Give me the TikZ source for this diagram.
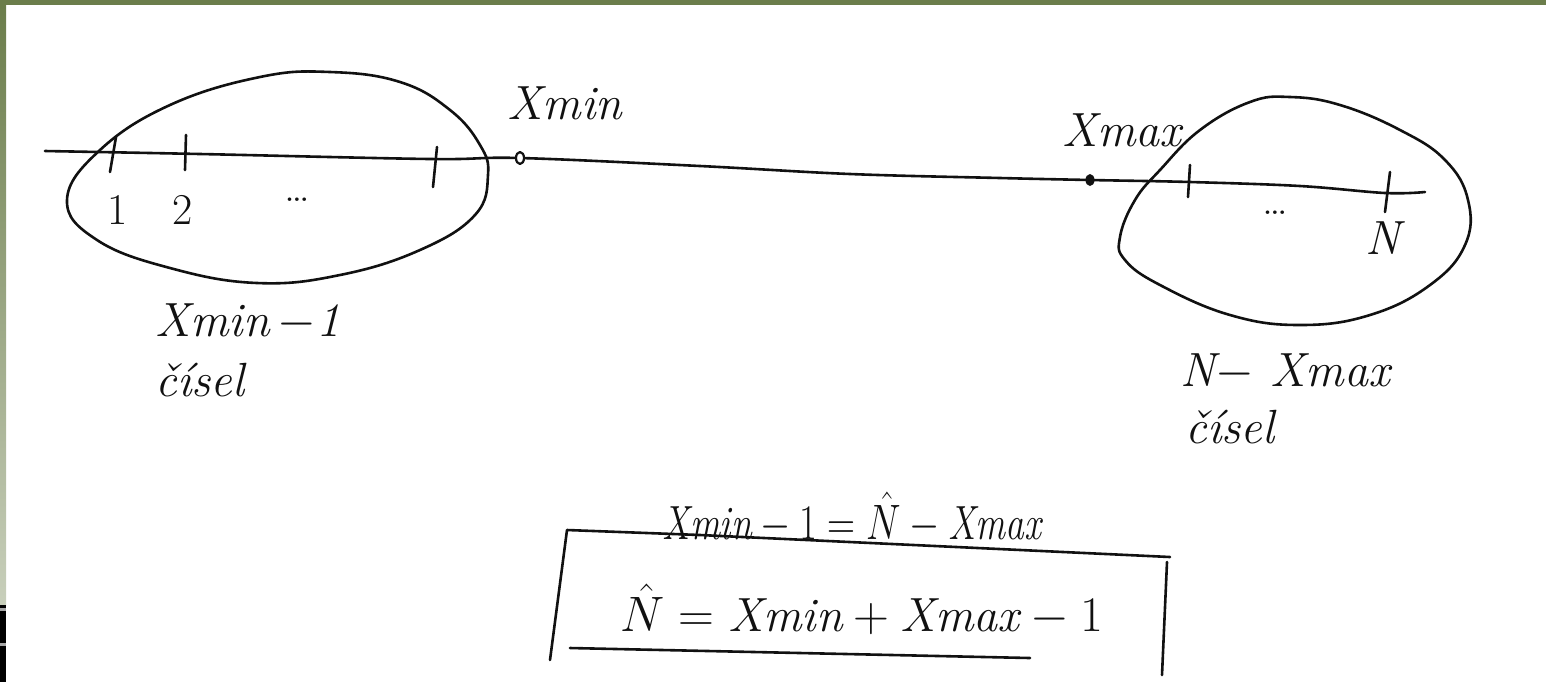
\documentclass[tikz,border=0pt]{standalone}
\usepackage{fontspec}
\usepackage{amsmath}
\usetikzlibrary{positioning, calc}
\definecolor{cFrame}   {HTML}{6B7D4B}
\definecolor{cFrameLo} {HTML}{C8CFBB}
\definecolor{cInk}     {HTML}{111111}
\tikzset{
  ink/.style={draw=cInk, line width=1.3pt, line cap=round, line join=round},
  hand/.style={font=\fontsize{24}{28}\selectfont\itshape, text=cInk, inner sep=0pt},
  handsm/.style={font=\fontsize{22}{26}\selectfont, text=cInk, inner sep=0pt},
}
\begin{document}
\begin{tikzpicture}[x=0.5pt, y=-0.5pt]
  \useasboundingbox (0,0) rectangle (1546,682);
  % frame
  \fill[cFrame] (0,0) rectangle (1546,5);
  \shade[top color=cFrame, bottom color=cFrameLo] (0,5) rectangle (6,605);
  \fill[black] (0,605) rectangle (6,682);
  \foreach \y in {608, 643}
    \fill[gray!70] (0,\y) rectangle (6,\y+3);

  % number line
  \draw[ink] plot[smooth, tension=0.6] coordinates {
    (45,151) (200,154) (430,159) (520,158) (700,166) (850,174)
    (1000,178) (1090,180) (1190,182) (1300,186) (1385,193) (1425,192)};

  % left set
  \draw[ink] plot[smooth cycle, tension=0.7] coordinates {
    (67,200) (100,150) (170,105) (260,77) (330,72) (400,82) (450,110)
    (480,145) (488,175) (475,215) (420,250) (340,275) (257,283)
    (170,268) (97,240)};
  % right set
  \draw[ink] plot[smooth cycle, tension=0.7] coordinates {
    (1120,237) (1135,200) (1160,170) (1200,130) (1250,102) (1290,97)
    (1340,105) (1400,130) (1445,160) (1468,200) (1465,245) (1430,285)
    (1370,315) (1300,325) (1230,315) (1160,285) (1125,260)};

  % ticks
  \foreach \xa/\ya/\xb/\yb in {116/137/110/172, 186/135/185/170, 437/147/433/187,
                               1190/165/1188/197, 1390/172/1385/212}
    \draw[ink] (\xa,\ya) -- (\xb,\yb);

  % points
  \draw[ink, line width=1.1pt, fill=white] (520,158) ellipse (4 and 6);
  \fill[cInk] (1090,180) ellipse (4.5 and 6);

  % labels on the line
  \node[handsm] (one)   at (118,210) {1};
  \node[handsm] (two)   at (183,210) {2};
  \node[handsm] (dotsL) at (297,200) {\dots};
  \node[handsm] (dotsR) at (1275,213) {\dots};
  \node[hand]   (nn)    at (1383,238) {N};
  \node[hand]   (xmin)  at (565,103) {Xmin};
  \node[hand]   (xmax)  at (1122,130) {Xmax};

  % counts
  \node[hand, anchor=west] (cntL) at (155,322) {Xmin\,$-$1};
  \node[hand, anchor=west] (wrdL) at (155,380) {čísel};
  \node[hand, anchor=west] (cntR) at (1180,372) {N$-$ Xmax};
  \node[hand, anchor=west] (wrdR) at (1185,427) {čísel};

  % equations
  \node[hand, xscale=0.78, transform shape] (eqA) at (852,518)
    {$\mathit{Xmin}-1=\hat{N}-\mathit{Xmax}$};
  \node[hand] (eqB) at (862,610)
    {$\hat{N}=\mathit{Xmin}+\mathit{Xmax}-1$};

  % box round the result
  \coordinate (bTL) at (567,530);
  \coordinate (bTR) at (1170,557);
  \draw[ink] (550,660) -- (bTL) -- (700,535) -- (bTR);
  \draw[ink] (1167,562) -- (1162,675);
  \draw[ink] (570,648) -- (1030,658);
\end{tikzpicture}
\end{document}
